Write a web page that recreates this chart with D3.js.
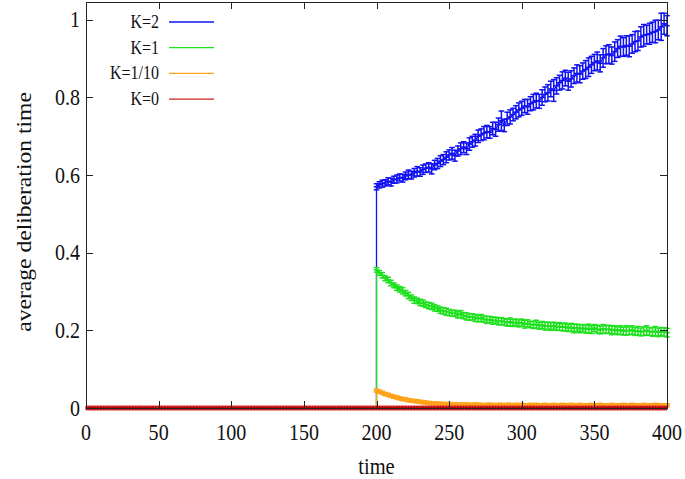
<!DOCTYPE html>
<html>
<head>
<meta charset="utf-8">
<script src="https://cdn.jsdelivr.net/npm/d3@7"></script>
<style>
  body { margin: 0; background: #fff; }
  text { font-family: "Liberation Serif", "Times New Roman", serif; fill: #111; }
</style>
</head>
<body>
<svg width="685" height="479"></svg>
<script>
// x ticks and y ticks
const tickTimes = [0, 50, 100, 150, 200, 250, 300, 350, 400];
const tickValues = [0, 0.2, 0.4, 0.6, 0.8, 1];

const labels = ["K=2", "K=1", "K=1/10", "K=0"];
const colors = ["#1212f2", "#1ee01e", "#ffa31a", "#d42020"];

// samples every 2 time units, t = 0..400 (K=0) and t = 200..400 (others)
const allTimes = d3.range(0, 401, 2);
const times = d3.range(200, 401, 2);

// before t=200 every run sits at 0
const before = [[0, 0], [200, 0]];

const k2 = [
  .570,.575,.578,.580,.584,.582,.588,.590,.594,.592,
  .598,.602,.600,.606,.610,.608,.614,.618,.620,.616,
  .626,.630,.636,.640,.646,.652,.656,.650,.662,.668,
  .672,.668,.680,.686,.690,.700,.704,.708,.712,.710,
  .720,.718,.730,.740,.728,.745,.750,.756,.762,.768,
  .772,.778,.776,.784,.788,.792,.790,.800,.808,.812,
  .822,.818,.830,.838,.844,.850,.842,.848,.856,.862,
  .860,.868,.872,.878,.884,.890,.894,.888,.902,.910,
  .912,.908,.918,.926,.932,.930,.934,.932,.938,.944,
  .946,.956,.960,.962,.964,.968,.970,.974,.982,.990,
  .985];
const k2Err = [
  .008,.008,.009,.008,.009,.010,.009,.010,.009,.010,
  .010,.011,.010,.011,.012,.011,.012,.011,.012,.013,
  .012,.013,.014,.013,.014,.013,.015,.014,.013,.015,
  .014,.015,.016,.014,.015,.016,.015,.017,.016,.015,
  .016,.018,.017,.025,.016,.017,.018,.016,.017,.018,
  .018,.017,.019,.018,.020,.019,.018,.020,.019,.021,
  .020,.028,.021,.019,.022,.020,.023,.021,.020,.022,
  .022,.021,.023,.024,.022,.021,.023,.022,.024,.023,
  .024,.022,.025,.023,.026,.024,.025,.027,.024,.026,
  .025,.026,.028,.024,.027,.026,.029,.025,.035,.027,
  .026];

const k1 = [
  .356,.348,.342,.334,.330,.322,.316,.310,.306,.302,
  .296,.290,.284,.278,.276,.272,.270,.266,.264,.262,
  .258,.256,.252,.250,.248,.246,.244,.244,.240,.242,
  .238,.236,.234,.235,.232,.230,.232,.229,.227,.228,
  .225,.226,.223,.224,.222,.220,.222,.219,.221,.218,
  .220,.216,.218,.215,.214,.216,.212,.214,.211,.212,
  .210,.212,.209,.210,.208,.209,.206,.208,.205,.207,
  .204,.206,.203,.205,.202,.206,.203,.201,.204,.202,
  .203,.200,.202,.199,.201,.198,.200,.199,.201,.197,
  .199,.196,.198,.200,.197,.196,.198,.195,.197,.196,
  .194];
const k1Err = [
  .006,.006,.007,.006,.007,.007,.006,.007,.007,.008,
  .007,.008,.007,.008,.007,.008,.008,.007,.008,.008,
  .008,.007,.008,.008,.009,.008,.007,.008,.008,.009,
  .008,.009,.008,.008,.009,.008,.009,.008,.009,.008,
  .009,.008,.009,.009,.008,.009,.010,.009,.008,.009,
  .009,.010,.009,.008,.009,.010,.009,.009,.010,.009,
  .010,.009,.009,.010,.009,.010,.009,.010,.011,.009,
  .010,.009,.010,.011,.010,.009,.010,.010,.011,.010,
  .010,.011,.010,.010,.011,.010,.012,.010,.011,.010,
  .011,.010,.011,.012,.010,.011,.012,.011,.010,.011,
  .011];

const k10 = [
  .045,.042,.039,.036,.034,.031,.029,.027,.025,.023,
  .022,.020,.019,.018,.017,.016,.015,.014,.013,.012,
  .012,.011,.011,.010,.010,.010,.009,.009,.009,.009,
  .008,.009,.008,.008,.009,.008,.008,.007,.008,.008,
  .008,.007,.008,.008,.007,.008,.008,.007,.008,.007,
  .008,.007,.007,.008,.007,.008,.007,.007,.008,.007,
  .007,.008,.007,.007,.008,.007,.007,.008,.007,.007,
  .008,.007,.007,.007,.008,.007,.007,.008,.007,.007,
  .007,.008,.007,.007,.007,.008,.007,.007,.008,.007,
  .007,.007,.008,.007,.007,.007,.008,.007,.007,.007,
  .007];
const k10Err = [
  .004,.004,.004,.004,.004,.004,.004,.004,.004,.004,
  .004,.004,.004,.004,.004,.004,.004,.004,.004,.004,
  .004,.004,.004,.004,.004,.004,.004,.004,.004,.004,
  .004,.004,.004,.004,.004,.004,.004,.004,.004,.004,
  .004,.004,.004,.004,.004,.004,.004,.004,.004,.004,
  .004,.004,.004,.004,.004,.004,.004,.004,.004,.004,
  .004,.004,.004,.004,.004,.004,.004,.004,.004,.004,
  .004,.004,.004,.004,.004,.004,.004,.004,.004,.004,
  .004,.004,.004,.004,.004,.004,.004,.004,.004,.004,
  .004,.004,.004,.004,.004,.004,.004,.004,.004,.004,
  .004];

const k0 = [
  0,0,0,0,0,0,0,0,0,0,0,0,0,0,0,0,0,0,0,0,0,0,0,0,0,
  0,0,0,0,0,0,0,0,0,0,0,0,0,0,0,0,0,0,0,0,0,0,0,0,0,
  0,0,0,0,0,0,0,0,0,0,0,0,0,0,0,0,0,0,0,0,0,0,0,0,0,
  0,0,0,0,0,0,0,0,0,0,0,0,0,0,0,0,0,0,0,0,0,0,0,0,0,
  0,0,0,0,0,0,0,0,0,0,0,0,0,0,0,0,0,0,0,0,0,0,0,0,0,
  0,0,0,0,0,0,0,0,0,0,0,0,0,0,0,0,0,0,0,0,0,0,0,0,0,
  0,0,0,0,0,0,0,0,0,0,0,0,0,0,0,0,0,0,0,0,0,0,0,0,0,
  0,0,0,0,0,0,0,0,0,0,0,0,0,0,0,0,0,0,0,0,0,0,0,0,0,
  0];

let svg = d3.select("svg");
const padL = 86, padR = 667, padT = 2, padB = 408;

let x = d3.scaleLinear().domain([0, 400]).range([padL, padR]);
let y = d3.scaleLinear().domain([0, 1.046]).range([padB, padT]);

let plot = svg.append("g");

function drawSeries(ts, vals, errs, color, withJump) {
  let pts = ts.map((t, i) => [t, vals[i], errs[i]]);
  let linePts = withJump ? before.concat(pts) : pts;
  let g = plot.append("g").attr("stroke", color).attr("stroke-width", 1.5);

  g.append("path")
    .datum(linePts)
    .attr("fill", "none")
    .attr("stroke-width", 1.3)
    .attr("d", d3.line().x(d => x(d[0])).y(d => y(d[1])));

  let bars = g.selectAll(".bar").data(pts).enter().append("g");
  bars.append("line")
    .attr("x1", d => x(d[0])).attr("x2", d => x(d[0]))
    .attr("y1", d => y(d[1] - d[2]) + 0.5).attr("y2", d => y(d[1] + d[2]) - 0.5);
  [-1, 1].forEach(s => {
    bars.append("line")
      .attr("x1", d => x(d[0]) - 2.8).attr("x2", d => x(d[0]) + 2.8)
      .attr("y1", d => y(d[1] + s * d[2])).attr("y2", d => y(d[1] + s * d[2]));
  });
  // point marker
  bars.append("line")
    .attr("x1", d => x(d[0]) - 2.8).attr("x2", d => x(d[0]) + 2.8)
    .attr("y1", d => y(d[1])).attr("y2", d => y(d[1]));
}

drawSeries(times, k2, k2Err, colors[0], true);
drawSeries(times, k1, k1Err, colors[1], true);
drawSeries(times, k10, k10Err, colors[2], true);

// K=0: thick red band with dark marks
let k0pts = allTimes.map((t, i) => [t, k0[i]]);
plot.append("path")
  .datum(k0pts)
  .attr("fill", "none")
  .attr("stroke", "#e23030")
  .attr("stroke-width", 5)
  .attr("d", d3.line().x(d => x(d[0])).y(d => y(d[1])));
plot.selectAll(".k0mark")
  .data(k0pts)
  .enter().append("line")
  .attr("x1", d => x(d[0])).attr("x2", d => x(d[0]))
  .attr("y1", d => y(d[1]) - 2).attr("y2", d => y(d[1]) + 2)
  .attr("stroke", "#a00000").attr("stroke-width", 1);
plot.append("line")
  .attr("x1", x(0)).attr("x2", x(400))
  .attr("y1", y(0)).attr("y2", y(0))
  .attr("stroke", "#b00000").attr("stroke-width", 1.5);

// frame + ticks
const tickLen = 7;
let axes = svg.append("g").attr("stroke", "#222").attr("stroke-width", 1);
axes.append("rect")
  .attr("x", padL + 0.5).attr("y", padT + 0.5)
  .attr("width", padR - padL).attr("height", padB - padT)
  .attr("fill", "none");

tickTimes.forEach(t => {
  let px = Math.round(x(t)) + 0.5;
  axes.append("line").attr("x1", px).attr("x2", px).attr("y1", padB).attr("y2", padB - tickLen);
  axes.append("line").attr("x1", px).attr("x2", px).attr("y1", padT).attr("y2", padT + tickLen);
});
tickValues.forEach(v => {
  let py = Math.round(y(v)) + 0.5;
  axes.append("line").attr("x1", padL).attr("x2", padL + tickLen).attr("y1", py).attr("y2", py);
  axes.append("line").attr("x1", padR).attr("x2", padR - tickLen).attr("y1", py).attr("y2", py);
});

// text is a bit narrow and tall in the original
const sx = 0.89;
function label(px, py, str, size, anchor, rot) {
  return svg.append("text")
    .attr("transform", `translate(${px},${py}) scale(${sx},1)` + (rot ? ` rotate(${rot})` : ""))
    .attr("text-anchor", anchor)
    .style("font-size", size + "px")
    .text(str);
}

tickTimes.forEach(t => label(x(t), 440, t, 22.5, "middle"));
tickValues.forEach(v => label(80, y(v) + 7.5, v, 22.5, "end"));

label((padL + padR) / 2, 474, "time", 23, "middle");
label(31, 212, "average deliberation time", 23.6, "middle", -90);

// legend
labels.forEach((l, i) => {
  let ly = 22 + i * 25.7;
  label(159, ly + 6, l, 18, "end");
  svg.append("line")
    .attr("x1", 169).attr("x2", 214)
    .attr("y1", ly).attr("y2", ly)
    .attr("stroke", colors[i]).attr("stroke-width", 1.3);
});
</script>
</body>
</html>
